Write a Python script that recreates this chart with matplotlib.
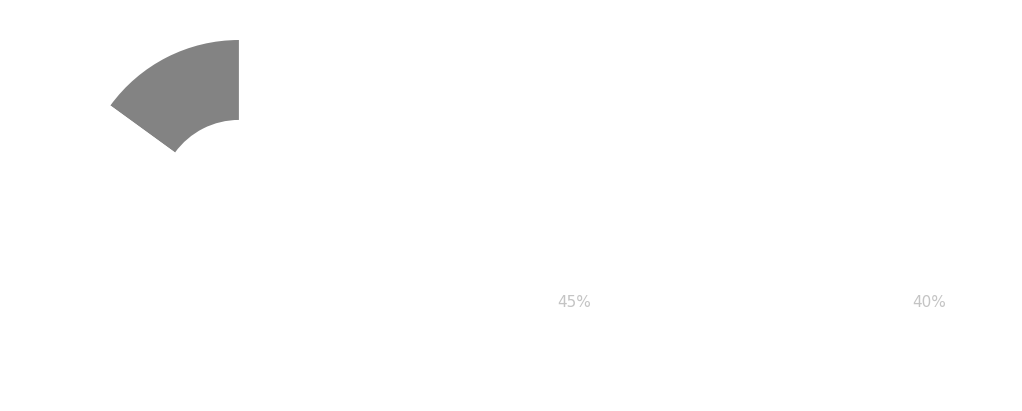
import matplotlib
matplotlib.use('Agg')
import matplotlib.pyplot as plt

# dados
fatias = ['A', 'B', 'C']
valores = [15, 45, 40]
rotulos = ['15%', '45%', '40%']
cores = ['#838383', '#ffffff', '#ffffff']

fig = plt.figure(figsize=(10.22, 4.11), dpi=100)
fig.patch.set_facecolor('white')

# donut no canto esquerdo
ax = fig.add_axes([0.0783, 0.129, 0.311, 0.774])
ax.pie(valores, colors=cores, startangle=90, counterclock=True,
       radius=1, wedgeprops=dict(width=0.503, linewidth=0))
ax.set_xlim(-1, 1)
ax.set_ylim(-1, 1)
ax.set_aspect('equal')
ax.axis('off')

# rotulos visiveis (so os das fatias brancas aparecem)
pos_rotulos = {1: (574 / 1022, 1 - 302 / 411), 2: (929 / 1022, 1 - 302 / 411)}
for i, (x, y) in pos_rotulos.items():
    fig.text(x, y, rotulos[i], ha='center', va='center',
             fontsize=11, color='#c4c4c4')

fig.savefig('out.png', dpi=100)
